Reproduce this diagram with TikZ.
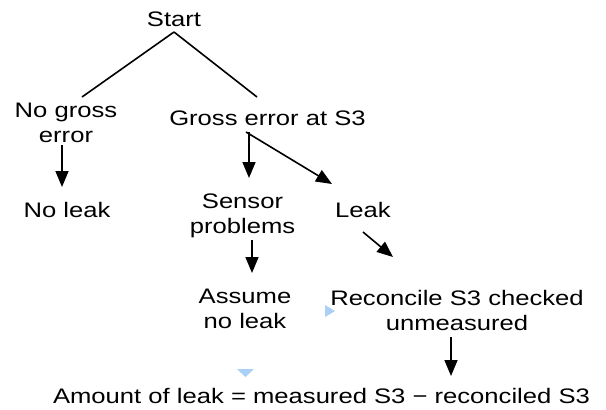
\documentclass[tikz,border=0pt]{standalone}
\usepackage{fontspec}
\setmainfont{Liberation Sans}[FakeStretch=1.22]
\usetikzlibrary{arrows.meta}
\definecolor{handle}{RGB}{170,208,245}
\begin{document}
\begin{tikzpicture}[x=1pt,y=-1pt,
  lbl/.style={inner sep=0pt,anchor=base,align=center,
    font=\fontsize{21}{25}\selectfont},
  link/.style={line width=1.6pt},
  flow/.style={line width=1.6pt,-{Triangle[length=16pt,width=13pt]}},
  marker/.style={fill=handle,draw=none}]
\useasboundingbox (0,0) rectangle (606,410);

% outcomes and decisions (base = baseline of the last line)
\node[lbl] (start)  at (174,26)   {Start};
\node[lbl] (noerr)  at (66,142)   {No gross\\error};
\node[lbl] (gross)  at (267.5,125){Gross error at S3};
\node[lbl] (noleak) at (67,217)   {No leak};
\node[lbl] (sensor) at (242.5,233){Sensor\\problems};
\node[lbl] (leak)   at (363,217)  {Leak};
\node[lbl] (assume) at (245,328)  {Assume\\no leak};
\node[lbl] (recon)  at (457,330)  {Reconcile S3 checked\\unmeasured};
\node[lbl] (amount) at (321.5,403){Amount of leak = measured S3 − reconciled S3};

% branches from the start
\draw[link] ([yshift=-6pt]start.base) -- ([xshift=16pt,yshift=45pt]noerr.base);
\draw[link] ([yshift=-6pt]start.base) -- ([xshift=-10.5pt,yshift=28pt]gross.base);

% arrows between steps
\draw[flow] ([xshift=-4pt,yshift=-3pt]noerr.base) -- ([xshift=-5pt,yshift=30pt]noleak.base);
\draw[flow] ([xshift=-18.5pt,yshift=-7pt]gross.base) -- ([xshift=6.5pt,yshift=55pt]sensor.base);
\draw[flow] ([xshift=-21.5pt,yshift=-7pt]gross.base) -- ([xshift=-31pt,yshift=33pt]leak.base);
\draw[flow] ([yshift=-15pt]leak.base) -- ([xshift=-64pt,yshift=73pt]recon.base);
\draw[flow] ([xshift=9.5pt,yshift=-7pt]sensor.base) -- ([xshift=7pt,yshift=55pt]assume.base);
\draw[flow] ([xshift=-6pt,yshift=-7pt]recon.base) -- ([xshift=129.5pt,yshift=27pt]amount.base);

% small selection handles
\fill[marker] (325,305) -- (335,311) -- (325,317) -- cycle;
\fill[marker] (237,369) -- (254,369) -- (245.5,377) -- cycle;
\end{tikzpicture}
\end{document}
